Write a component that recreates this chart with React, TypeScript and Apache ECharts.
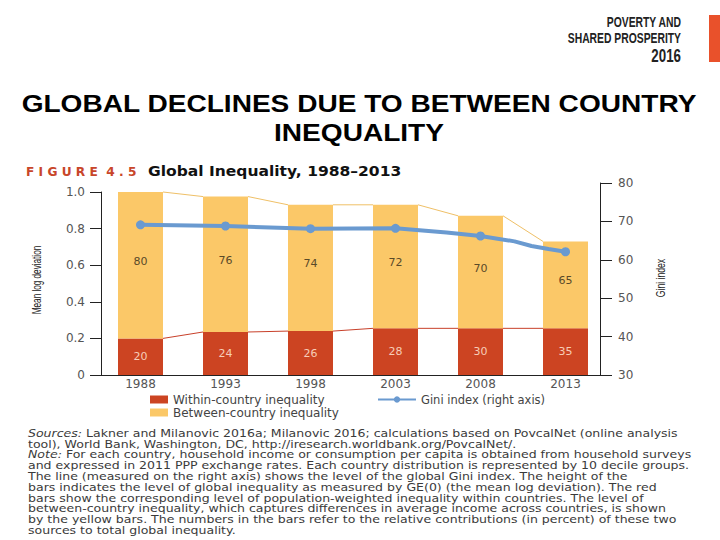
import React, { useEffect, useRef } from 'react';
import * as echarts from 'echarts';

const years = ['1988', '1993', '1998', '2003', '2008', '2013'];
const withinValues = [0.2, 0.235, 0.24, 0.255, 0.255, 0.255];
const betweenValues = [0.8, 0.74, 0.69, 0.675, 0.615, 0.475];
const withinShares = [20, 24, 26, 28, 30, 35];
const betweenShares = [80, 76, 74, 72, 70, 65];
const giniYears = [1988, 1993, 1998, 2003, 2006, 2008, 2010, 2011, 2012, 2013];
const giniValues = [69.1, 68.8, 68.1, 68.2, 67.1, 66.2, 64.8, 63.6, 62.8, 62.1];

const headerLines = ['POVERTY AND', 'SHARED PROSPERITY', '2016'];
const titleLines = ['GLOBAL DECLINES DUE TO BETWEEN COUNTRY', 'INEQUALITY'];
const noteLines = [
  '{i|Sources:} Lakner and Milanovic 2016a; Milanovic 2016; calculations based on PovcalNet (online analysis',
  'tool), World Bank, Washington, DC, http://iresearch.worldbank.org/PovcalNet/.',
  '{i|Note:} For each country, household income or consumption per capita is obtained from household surveys',
  'and expressed in 2011 PPP exchange rates. Each country distribution is represented by 10 decile groups.',
  'The line (measured on the right axis) shows the level of the global Gini index. The height of the',
  'bars indicates the level of global inequality as measured by GE(0) (the mean log deviation). The red',
  'bars show the corresponding level of population-weighted inequality within countries. The level of',
  'between-country inequality, which captures differences in average income across countries, is shown',
  'by the yellow bars. The numbers in the bars refer to the relative contributions (in percent) of these two',
  'sources to total global inequality.',
];

const RED = '#CC4422';
const YELLOW = '#FBC868';
const BLUE = '#6A9AD0';
const FONT = 'DejaVu Sans, sans-serif';
const BAR_W = 45;

export default function App() {
  const ref = useRef<HTMLDivElement>(null);
  useEffect(() => {
    const chart = echarts.init(ref.current!, null, { renderer: 'svg' });
    const totals = withinValues.map((w, i) => w + betweenValues[i]);
    const mainYears = years.map(Number);

    const connector = (vals: number[], color: string) => ({
      type: 'custom',
      xAxisIndex: 0,
      yAxisIndex: 0,
      silent: true,
      z: 1,
      encode: { x: 0, y: [1, 2] },
      data: vals.slice(0, -1).map((v, i) => [i, v, vals[i + 1]]),
      renderItem: (params: any, api: any) => {
        const i = api.value(0);
        const a = api.coord([i, api.value(1)]);
        const b = api.coord([i + 1, api.value(2)]);
        return {
          type: 'line',
          shape: { x1: a[0] + BAR_W / 2, y1: a[1], x2: b[0] - BAR_W / 2, y2: b[1] },
          style: { stroke: color, lineWidth: 1 },
        };
      },
    });

    const option: any = {
      animation: false,
      backgroundColor: '#ffffff',
      grid: [
        { left: 98, right: 112, top: 192, bottom: 165 },
        { left: 98, right: 112, top: 183, bottom: 165 },
      ],
      xAxis: [
        {
          type: 'category',
          gridIndex: 0,
          data: years,
          axisLine: { lineStyle: { color: '#222', width: 1 } },
          axisTick: { show: false },
          axisLabel: { color: '#555', fontFamily: FONT, fontSize: 12, margin: 3 },
        },
        { type: 'value', gridIndex: 1, min: 1985.5, max: 2015.5, show: false },
      ],
      yAxis: [
        {
          type: 'value',
          gridIndex: 0,
          min: 0,
          max: 1,
          interval: 0.2,
          offset: -3,
          axisLine: { show: true, lineStyle: { color: '#222', width: 1 } },
          axisTick: { show: true, length: 11, lineStyle: { color: '#222' } },
          splitLine: { show: false },
          axisLabel: {
            color: '#555',
            fontFamily: FONT,
            fontSize: 12,
            margin: 16,
            formatter: (v: number) => (v === 0 ? '0' : v.toFixed(1)),
          },
        },
        {
          type: 'value',
          gridIndex: 1,
          position: 'right',
          min: 30,
          max: 80,
          interval: 10,
          offset: -8,
          axisLine: { show: true, lineStyle: { color: '#222', width: 1 } },
          axisTick: { show: true, length: 12, lineStyle: { color: '#222' } },
          splitLine: { show: false },
          axisLabel: { color: '#555', fontFamily: FONT, fontSize: 12, margin: 18 },
        },
      ],
      legend: [
        {
          orient: 'vertical',
          left: 145,
          top: 388,
          itemWidth: 18,
          itemHeight: 8,
          itemGap: 0,
          icon: 'rect',
          data: ['Within-country inequality', 'Between-country inequality'],
          textStyle: { color: '#444', fontFamily: FONT, fontSize: 12, lineHeight: 13 },
        },
        {
          left: 372,
          top: 388,
          itemWidth: 38,
          itemHeight: 8,
          data: ['Gini index (right axis)'],
          textStyle: { color: '#444', fontFamily: FONT, fontSize: 11.5, lineHeight: 13 },
        },
      ],
      series: [
        {
          name: 'Within-country inequality',
          type: 'bar',
          stack: 'total',
          barWidth: BAR_W,
          xAxisIndex: 0,
          yAxisIndex: 0,
          itemStyle: { color: RED },
          data: withinValues,
          z: 2,
          label: {
            show: true,
            position: 'inside',
            color: '#F7CDB8',
            fontFamily: FONT,
            fontSize: 11,
            formatter: (p: any) => String(withinShares[p.dataIndex]),
          },
        },
        {
          name: 'Between-country inequality',
          type: 'bar',
          stack: 'total',
          barWidth: BAR_W,
          xAxisIndex: 0,
          yAxisIndex: 0,
          itemStyle: { color: YELLOW },
          data: betweenValues,
          z: 2,
          label: {
            show: true,
            position: 'inside',
            offset: [0, -4],
            color: '#5A4A28',
            fontFamily: FONT,
            fontSize: 11,
            formatter: (p: any) => String(betweenShares[p.dataIndex]),
          },
        },
        connector(totals, '#EFC067'),
        connector(withinValues, '#C8402A'),
        {
          name: 'Gini index (right axis)',
          type: 'line',
          xAxisIndex: 1,
          yAxisIndex: 1,
          z: 5,
          symbol: 'circle',
          symbolSize: 9,
          showSymbol: true,
          lineStyle: { color: BLUE, width: 4 },
          itemStyle: { color: BLUE },
          data: giniYears.map((y, i) => ({
            value: [y, giniValues[i]],
            symbol: mainYears.includes(y) ? 'circle' : 'none',
          })),
        },
      ],
      graphic: [
        {
          type: 'rect',
          shape: { x: 709, y: 15, width: 11, height: 47 },
          style: { fill: '#E9512B' },
        },
        ...headerLines.map((t, i) => ({
          type: 'text',
          x: 681,
          y: [22, 38, 56][i],
          scaleX: 0.74,
          style: {
            text: t,
            fill: '#222',
            font: `bold ${i === 2 ? 18 : 14}px Liberation Sans, Arial, sans-serif`,
            textAlign: 'right',
            textVerticalAlign: 'middle',
          },
        })),
        ...titleLines.map((t, i) => ({
          type: 'text',
          x: 359,
          y: [104, 133][i],
          scaleX: 1.17,
          style: {
            text: t,
            fill: '#000',
            font: 'bold 24px Liberation Sans, Arial, sans-serif',
            textAlign: 'center',
            textVerticalAlign: 'middle',
          },
        })),
        {
          type: 'text',
          x: 26,
          y: 171,
          scaleX: 0.94,
          style: {
            text: 'F I G U R E  4 . 5',
            fill: '#C8462A',
            font: `bold 13px ${FONT}`,
            textVerticalAlign: 'middle',
          },
        },
        {
          type: 'text',
          x: 148,
          y: 171,
          scaleX: 1.15,
          style: {
            text: 'Global Inequality, 1988–2013',
            fill: '#111',
            font: `bold 13.5px ${FONT}`,
            textVerticalAlign: 'middle',
          },
        },
        {
          type: 'text',
          x: 37,
          y: 280,
          rotation: Math.PI / 2,
          scaleX: 0.68,
          style: {
            text: 'Mean log deviation',
            fill: '#222',
            font: '12px Liberation Sans, Arial, sans-serif',
            textAlign: 'center',
            textVerticalAlign: 'middle',
          },
        },
        {
          type: 'text',
          x: 661,
          y: 278,
          rotation: Math.PI / 2,
          scaleX: 0.72,
          style: {
            text: 'Gini index',
            fill: '#222',
            font: '12px Liberation Sans, Arial, sans-serif',
            textAlign: 'center',
            textVerticalAlign: 'middle',
          },
        },
        ...noteLines.map((t, i) => ({
          type: 'text',
          x: 28,
          y: 433 + i * 10.8,
          scaleX: 1.14,
          style: {
            text: t,
            fill: '#3A3A3A',
            font: `11px ${FONT}`,
            textVerticalAlign: 'middle',
            rich: {
              i: { fontStyle: 'italic', fontFamily: FONT, fontSize: 11, fill: '#3A3A3A' },
            },
          },
        })),
      ],
    };
    chart.setOption(option);
    return () => chart.dispose();
  }, []);
  return (
    <div
      ref={ref}
      style={{ position: 'fixed', left: 0, top: 0, width: 720, height: 540, background: '#fff' }}
    />
  );
}
